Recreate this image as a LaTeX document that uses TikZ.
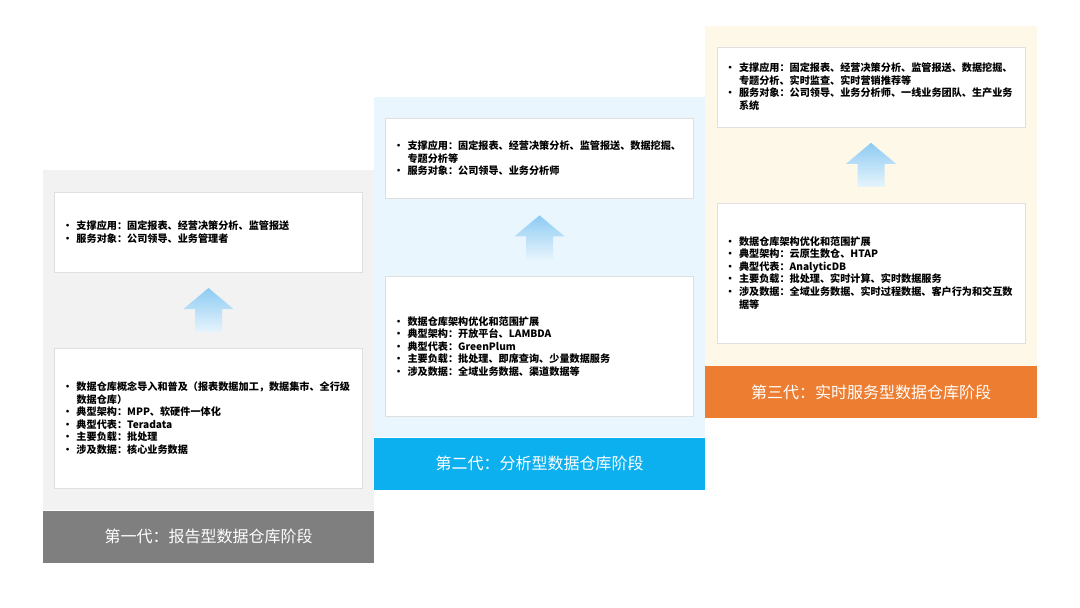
\documentclass[tikz,border=0pt]{standalone}
\usepackage{fontspec}
\setmainfont{Noto Sans CJK SC}
\usetikzlibrary{positioning,calc}
\definecolor{paneg}{HTML}{F2F2F2}
\definecolor{paneb}{HTML}{EAF6FD}
\definecolor{paney}{HTML}{FEF8E9}
\definecolor{barg}{HTML}{7F7F7F}
\definecolor{barb}{HTML}{0DB0EF}
\definecolor{baro}{HTML}{ED7D31}
\definecolor{liftt}{HTML}{8DCBF3}
\definecolor{liftb}{HTML}{E6F4FC}
\tikzset{
  pane/.style={fill=#1,minimum width=248.5pt,minimum height=255pt,inner sep=0pt},
  card/.style={draw=gray!25,fill=white,minimum width=231pt,minimum height=#1,text width=219pt,
    inner xsep=6pt,inner ysep=0pt,align=left,font=\fontsize{7.6}{9.4}\selectfont\bfseries},
  bar/.style={fill=#1,text=white,minimum width=248.5pt,minimum height=39pt,inner sep=0pt,
    font=\fontsize{12}{14}\selectfont},
  lift/.style={top color=liftt,bottom color=liftb,draw=none},
}
\newcommand{\bl}{\makebox[10.5pt][l]{•}}
\newcommand{\ct}{\hspace*{10.5pt}}
\newcommand{\liftarrow}[1]{%
  \shade[lift] ($(#1)+(0,-22)$) -- ($(#1)+(25,-1)$) -- ($(#1)+(13.5,-1)$) -- ($(#1)+(13.5,22)$)
    -- ($(#1)+(-13.5,22)$) -- ($(#1)+(-13.5,-1)$) -- ($(#1)+(-25,-1)$) -- cycle;}
\begin{document}
\begin{tikzpicture}[x=0.75pt,y=-0.75pt]
  \fill[white] (0,0) rectangle (1080,607);
  \useasboundingbox (0,0) rectangle (1080,607);

  % first generation: reporting
  \node[pane=paneg] (p1) at (208.5,340) {};
  \node[bar=barg,below=0pt of p1] (b1) {第一代：报告型数据仓库阶段};
  \node[card=60pt,below=16.5pt of p1.north] (c1a)
    {\bl 支撑应用：固定报表、经营决策分析、监管报送\\
     \bl 服务对象：公司领导、业务管理者};
  \node[card=105pt,above=16.5pt of p1.south] (c1b)
    {\bl 数据仓库概念导入和普及（报表数据加工，数据集市、全行级\\
     \ct 数据仓库）\\
     \bl 典型架构：MPP、软硬件一体化\\
     \bl 典型代表：Teradata\\
     \bl 主要负载：批处理\\
     \bl 涉及数据：核心业务数据};
  \coordinate (a1) at ($(c1a.south)!0.5!(c1b.north)$);
  \liftarrow{a1}

  % second generation: analytic
  \node[pane=paneb] (p2) at (539.5,267) {};
  \node[bar=barb,below=0pt of p2] (b2) {第二代：分析型数据仓库阶段};
  \node[card=60pt,below=16pt of p2.north] (c2a)
    {\bl 支撑应用：固定报表、经营决策分析、监管报送、数据挖掘、\\
     \ct 专题分析等\\
     \bl 服务对象：公司领导、业务分析师};
  \node[card=105pt,above=15.5pt of p2.south] (c2b)
    {\bl 数据仓库架构优化和范围扩展\\
     \bl 典型架构：开放平台、LAMBDA\\
     \bl 典型代表：GreenPlum\\
     \bl 主要负载：批处理、即席查询、少量数据服务\\
     \bl 涉及数据：全域业务数据、渠道数据等};
  \coordinate (a2) at ($(c2a.south)!0.5!(c2b.north)$);
  \liftarrow{a2}

  % third generation: real-time serving
  \node[pane=paney] (p3) at (871,195.5) {};
  \node[bar=baro,below=0pt of p3] (b3) {第三代：实时服务型数据仓库阶段};
  \node[card=60pt,below=16pt of p3.north] (c3a)
    {\bl 支撑应用：固定报表、经营决策分析、监管报送、数据挖掘、\\
     \ct 专题分析、实时监查、实时营销推荐等\\
     \bl 服务对象：公司领导、业务分析师、一线业务团队、生产业务\\
     \ct 系统};
  \node[card=105pt,above=17pt of p3.south] (c3b)
    {\bl 数据仓库架构优化和范围扩展\\
     \bl 典型架构：云原生数仓、HTAP\\
     \bl 典型代表：AnalyticDB\\
     \bl 主要负载：批处理、实时计算、实时数据服务\\
     \bl 涉及数据：全域业务数据、实时过程数据、客户行为和交互数\\
     \ct 据等};
  \coordinate (a3) at ($(c3a.south)!0.5!(c3b.north)$);
  \liftarrow{a3}
\end{tikzpicture}
\end{document}
